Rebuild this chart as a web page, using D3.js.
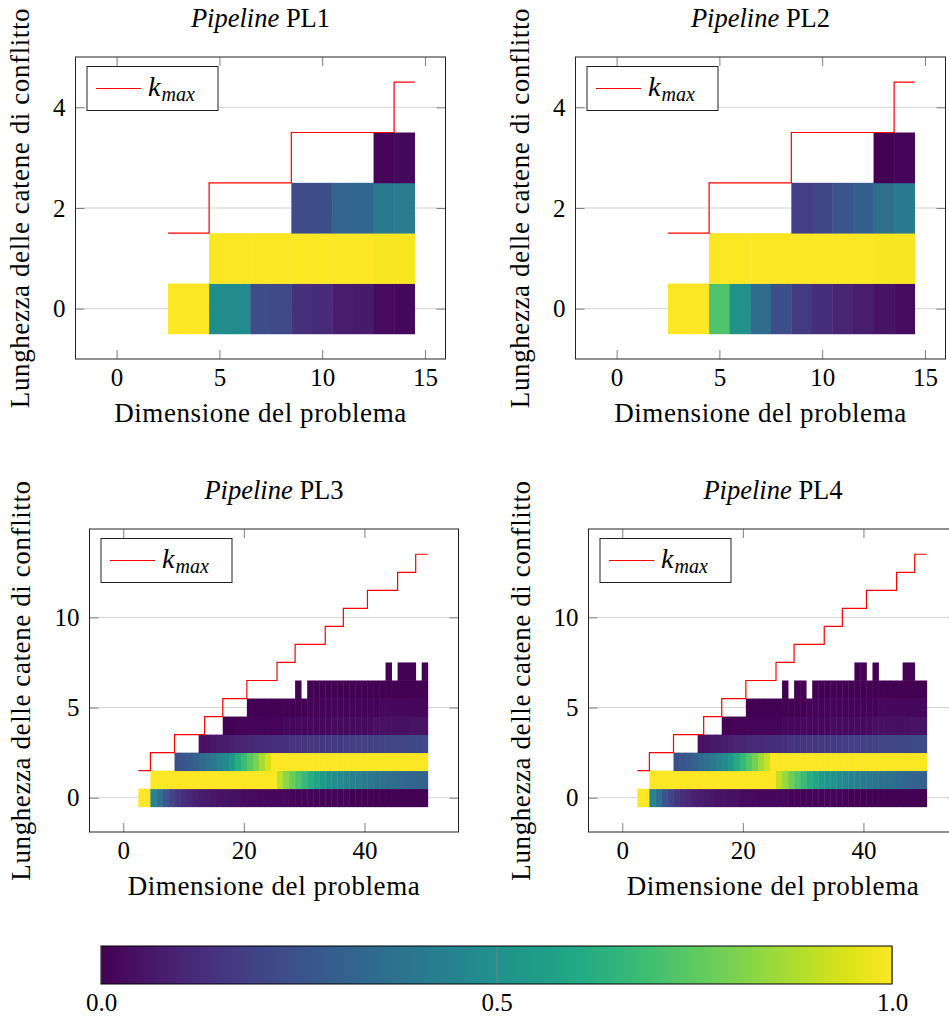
<!DOCTYPE html>
<html>
<head>
<meta charset="utf-8">
<script src="https://cdn.jsdelivr.net/npm/d3@7"></script>
<style>
  body { margin: 0; background: #fff; }
  svg text { font-family: "Liberation Serif", serif; }
</style>
</head>
<body>
<svg id="chart" width="949" height="1019"></svg>
<script>
// ---- data: small pipelines (PL1, PL2) ----
var smallN = [3, 4, 5, 6, 7, 8, 9, 10, 11, 12, 13, 14];
var smallKmax = [1, 1, 2, 2, 2, 2, 3, 3, 3, 3, 3, 4];

// first problem size present in each chain-length row (k = 0, 1, 2, 3)
var pl1Start = [3, 5, 9, 13];
var pl1Rows = [
  [1.0, 1.0, 0.49, 0.48, 0.23, 0.22, 0.14, 0.12, 0.08, 0.07, 0.03, 0.02],
  [1.0, 1.0, 1.0, 1.0, 1.0, 1.0, 1.0, 1.0, 0.99, 0.99],
  [0.23, 0.24, 0.32, 0.33, 0.41, 0.42],
  [0.01, 0.02]
];

var pl2Start = [3, 5, 9, 13];
var pl2Rows = [
  [1.0, 1.0, 0.72, 0.5, 0.35, 0.24, 0.17, 0.13, 0.1, 0.08, 0.05, 0.03],
  [1.0, 1.0, 1.0, 1.0, 1.0, 1.0, 1.0, 1.0, 0.99, 0.99],
  [0.18, 0.21, 0.26, 0.3, 0.36, 0.41],
  [0.0, 0.01]
];

// ---- data: large pipelines (PL3, PL4) ----
var bigN = [3, 4, 5, 6, 7, 8, 9, 10, 11, 12, 13, 14, 15, 16, 17, 18, 19, 20, 21, 22, 23, 24, 25, 26,
  27, 28, 29, 30, 31, 32, 33, 34, 35, 36, 37, 38, 39, 40, 41, 42, 43, 44, 45, 46, 47, 48, 49, 50];
var bigKmax = [1, 1, 2, 2, 2, 2, 3, 3, 3, 3, 3, 4, 4, 4, 5, 5, 5, 5, 6, 6, 6, 6, 6, 7,
  7, 7, 8, 8, 8, 8, 8, 9, 9, 9, 10, 10, 10, 10, 11, 11, 11, 11, 11, 12, 12, 12, 13, 13];

var pl3Start = [3, 5, 9, 13, 17, 21, 29, 44];
var pl3Rows = [
  [1.0, 1.0, 0.45, 0.37, 0.27, 0.21, 0.16, 0.13, 0.11, 0.09, 0.08, 0.07, 0.06, 0.05, 0.05, 0.04,
   0.04, 0.03, 0.03, 0.03, 0.02, 0.02, 0.02, 0.02, 0.02, 0.01, 0.01, 0.01, 0.01, 0.01, 0.01, 0.01,
   0.01, 0.01, 0.01, 0.0, 0.0, 0.0, 0.0, 0.0, 0.0, 0.0, 0.0, 0.0, 0.0, 0.0, 0.0, 0.0],
  [1.0, 1.0, 1.0, 1.0, 1.0, 1.0, 1.0, 1.0, 1.0, 1.0, 1.0, 1.0, 1.0, 1.0, 1.0, 1.0, 1.0, 1.0, 1.0,
   1.0, 1.0, 0.9, 0.83, 0.77, 0.72, 0.67, 0.62, 0.58, 0.54, 0.51, 0.49, 0.47, 0.45, 0.44, 0.42,
   0.41, 0.4, 0.38, 0.37, 0.36, 0.35, 0.34, 0.33, 0.32, 0.31, 0.3],
  [0.24, 0.26, 0.28, 0.31, 0.34, 0.37, 0.4, 0.44, 0.48, 0.54, 0.62, 0.68, 0.74, 0.8, 0.87, 0.93,
   1.0, 1.0, 1.0, 1.0, 1.0, 1.0, 1.0, 1.0, 1.0, 1.0, 1.0, 1.0, 1.0, 1.0, 1.0, 1.0, 1.0, 1.0, 1.0,
   1.0, 1.0, 1.0, 1.0, 1.0, 1.0, 1.0],
  [0.04, 0.05, 0.06, 0.07, 0.08, 0.09, 0.1, 0.1, 0.11, 0.12, 0.12, 0.13, 0.13, 0.14, 0.14, 0.15,
   0.15, 0.15, 0.16, 0.16, 0.16, 0.17, 0.17, 0.17, 0.18, 0.18, 0.18, 0.19, 0.19, 0.19, 0.2, 0.2,
   0.2, 0.21, 0.21, 0.22, 0.22, 0.23],
  [0.0, 0.0, 0.01, 0.01, 0.01, 0.01, 0.01, 0.01, 0.01, 0.01, 0.02, 0.02, 0.02, 0.02, 0.02, 0.02,
   0.02, 0.02, 0.03, 0.03, 0.03, 0.03, 0.03, 0.03, 0.03, 0.04, 0.04, 0.04, 0.04, 0.04, 0.04, 0.05,
   0.05, 0.05],
  [0.0, 0.0, 0.0, 0.0, 0.0, 0.0, 0.0, 0.0, 0.0, 0.0, 0.01, 0.01, 0.01, 0.01, 0.01, 0.01, 0.01,
   0.01, 0.01, 0.01, 0.01, 0.01, 0.02, 0.02, 0.02, 0.02, 0.02, 0.02, 0.02, 0.02],
  [0.0, null, 0.0, 0.0, 0.0, 0.0, 0.0, 0.0, 0.0, 0.0, 0.0, 0.0, 0.0, 0.0, 0.0, 0.0, 0.0, 0.0,
   0.0, 0.0, 0.0, 0.0],
  [0.0, null, 0.0, 0.0, 0.0, null, 0.0]
];

var pl4Start = [3, 5, 9, 13, 17, 21, 27, 39];
var pl4Rows = [
  [1.0, 1.0, 0.44, 0.36, 0.26, 0.21, 0.16, 0.13, 0.11, 0.09, 0.08, 0.07, 0.06, 0.05, 0.05, 0.04,
   0.04, 0.03, 0.03, 0.03, 0.02, 0.02, 0.02, 0.02, 0.02, 0.01, 0.01, 0.01, 0.01, 0.01, 0.01, 0.01,
   0.01, 0.01, 0.01, 0.0, 0.0, 0.0, 0.0, 0.0, 0.0, 0.0, 0.0, 0.0, 0.0, 0.0, 0.0, 0.0],
  [1.0, 1.0, 1.0, 1.0, 1.0, 1.0, 1.0, 1.0, 1.0, 1.0, 1.0, 1.0, 1.0, 1.0, 1.0, 1.0, 1.0, 1.0, 1.0,
   1.0, 1.0, 0.91, 0.84, 0.78, 0.73, 0.68, 0.63, 0.59, 0.55, 0.52, 0.5, 0.48, 0.46, 0.44, 0.43,
   0.41, 0.4, 0.39, 0.37, 0.36, 0.35, 0.34, 0.33, 0.32, 0.31, 0.3],
  [0.24, 0.26, 0.28, 0.31, 0.34, 0.37, 0.4, 0.44, 0.48, 0.54, 0.61, 0.67, 0.73, 0.79, 0.86, 0.92,
   1.0, 1.0, 1.0, 1.0, 1.0, 1.0, 1.0, 1.0, 1.0, 1.0, 1.0, 1.0, 1.0, 1.0, 1.0, 1.0, 1.0, 1.0, 1.0,
   1.0, 1.0, 1.0, 1.0, 1.0, 1.0, 1.0],
  [0.04, 0.05, 0.06, 0.07, 0.08, 0.09, 0.1, 0.1, 0.11, 0.12, 0.12, 0.13, 0.13, 0.14, 0.14, 0.15,
   0.15, 0.15, 0.16, 0.16, 0.16, 0.17, 0.17, 0.17, 0.18, 0.18, 0.18, 0.19, 0.19, 0.19, 0.2, 0.2,
   0.2, 0.21, 0.21, 0.22, 0.22, 0.23],
  [0.0, 0.0, 0.01, 0.01, 0.01, 0.01, 0.01, 0.01, 0.01, 0.01, 0.02, 0.02, 0.02, 0.02, 0.02, 0.02,
   0.02, 0.02, 0.03, 0.03, 0.03, 0.03, 0.03, 0.03, 0.03, 0.04, 0.04, 0.04, 0.04, 0.04, 0.04, 0.05,
   0.05, 0.05],
  [0.0, 0.0, 0.0, 0.0, 0.0, 0.0, 0.0, 0.0, 0.0, 0.0, 0.01, 0.01, 0.01, 0.01, 0.01, 0.01, 0.01,
   0.01, 0.01, 0.01, 0.01, 0.01, 0.02, 0.02, 0.02, 0.02, 0.02, 0.02, 0.02, 0.02],
  [0.0, null, 0.0, 0.0, null, 0.0, 0.0, 0.0, 0.0, 0.0, 0.0, 0.0, 0.0, 0.0, 0.0, 0.0, 0.0, 0.0,
   0.0, 0.0, 0.0, 0.0, 0.0, 0.0],
  [0.0, 0.0, null, 0.0, null, null, null, null, 0.0, 0.0]
];

// ---- ticks and labels ----
var smallXTicks = [0, 5, 10, 15];
var smallYTicks = [0, 2, 4];
var bigXTicks = [0, 20, 40];
var bigYTicks = [0, 5, 10];
var cbarTicks = [0, 0.5, 1];
var panelNames = ["PL1", "PL2", "PL3", "PL4"];
var xLabel = "Dimensione del problema";
var yLabel = "Lunghezza delle catene di conflitto";

var FONT = "'Liberation Serif', serif";
var svg = d3.select("#chart");
var color = d3.scaleSequential(d3.interpolateViridis).domain([0, 1]);

function drawPanel(cfg) {
  var x = d3.scaleLinear().domain(cfg.xDomain).range([cfg.left, cfg.left + cfg.width]);
  var y = d3.scaleLinear().domain(cfg.yDomain).range([cfg.top + cfg.height, cfg.top]);
  var bottom = cfg.top + cfg.height;
  var right = cfg.left + cfg.width;
  var g = svg.append("g");

  // horizontal grid
  g.append("g").selectAll("line")
    .data(cfg.yTicks).enter().append("line")
    .attr("x1", cfg.left).attr("x2", right)
    .attr("y1", function(d){ return y(d); })
    .attr("y2", function(d){ return y(d); })
    .attr("stroke", "#d4d4d4").attr("stroke-width", 1);

  // heatmap cells
  var cells = [];
  cfg.rows.forEach(function(vals, k){
    vals.forEach(function(v, i){
      if (v === null) return;
      cells.push({n: cfg.starts[k] + i, k: k, v: v});
    });
  });
  g.append("g").selectAll("rect")
    .data(cells).enter().append("rect")
    .attr("x", function(d){ return x(d.n - 0.5); })
    .attr("y", function(d){ return y(d.k + 0.5); })
    .attr("width", function(d){ return x(d.n + 0.5) - x(d.n - 0.5) + 0.4; })
    .attr("height", function(d){ return y(d.k - 0.5) - y(d.k + 0.5) + 0.4; })
    .attr("fill", function(d){ return color(d.v); });

  // k_max step line
  var pts = [];
  cfg.n.forEach(function(n, i){
    pts.push([n - 0.5, cfg.kmax[i] + 0.5]);
    pts.push([n + 0.5, cfg.kmax[i] + 0.5]);
  });
  g.append("path")
    .attr("d", d3.line().x(function(d){ return x(d[0]); }).y(function(d){ return y(d[1]); })(pts))
    .attr("fill", "none").attr("stroke", "#ff0000").attr("stroke-width", 1.2);

  // axes, ticks pointing inward on all four sides
  var fmt = d3.format("d");
  var ax = g.append("g").attr("transform", "translate(0," + bottom + ")")
    .call(d3.axisBottom(x).tickValues(cfg.xTicks).tickSize(-9).tickPadding(9).tickFormat(fmt));
  var ay = g.append("g").attr("transform", "translate(" + cfg.left + ",0)")
    .call(d3.axisLeft(y).tickValues(cfg.yTicks).tickSize(-9).tickPadding(10).tickFormat(fmt));
  var at = g.append("g").attr("transform", "translate(0," + cfg.top + ")")
    .call(d3.axisTop(x).tickValues(cfg.xTicks).tickSize(-9).tickFormat(""));
  var ar = g.append("g").attr("transform", "translate(" + right + ",0)")
    .call(d3.axisRight(y).tickValues(cfg.yTicks).tickSize(-9).tickFormat(""));
  [ax, ay, at, ar].forEach(function(a){
    a.select(".domain").remove();
    a.selectAll("line").attr("stroke", "#808080").attr("stroke-width", 1);
    a.attr("font-size", 25).attr("font-family", FONT);
  });
  ax.selectAll("text").attr("fill", "#000");
  ay.selectAll("text").attr("fill", "#000");

  // frame
  g.append("rect")
    .attr("x", cfg.left).attr("y", cfg.top)
    .attr("width", cfg.width).attr("height", cfg.height)
    .attr("fill", "none").attr("stroke", "#222").attr("stroke-width", 1);

  // legend
  var lx = cfg.left + 11.5, ly = cfg.top + 9.5;
  var lg = g.append("g");
  lg.append("rect").attr("x", lx).attr("y", ly).attr("width", 131).attr("height", 44)
    .attr("fill", "#fff").attr("stroke", "#222").attr("stroke-width", 1);
  lg.append("line").attr("x1", lx + 9).attr("x2", lx + 54)
    .attr("y1", ly + 22).attr("y2", ly + 22)
    .attr("stroke", "#ff0000").attr("stroke-width", 1.2);
  var lt = lg.append("text").attr("x", lx + 61).attr("y", ly + 29)
    .attr("font-style", "italic").attr("font-size", 28);
  lt.append("tspan").text("k");
  lt.append("tspan").attr("font-size", 20).attr("dy", 5).attr("dx", 1).text("max");

  // title
  var t = g.append("text").attr("x", (cfg.left + right) / 2).attr("y", cfg.top - 30)
    .attr("text-anchor", "middle").attr("font-size", 26.5);
  t.append("tspan").attr("font-style", "italic").text("Pipeline");
  t.append("tspan").text(" " + cfg.name);

  // axis labels
  g.append("text").attr("x", (cfg.left + right) / 2).attr("y", bottom + 63)
    .attr("text-anchor", "middle").attr("font-size", 27).attr("letter-spacing", 0.6).text(xLabel);
  g.append("text")
    .attr("transform", "translate(" + cfg.yLabelX + "," + (cfg.top + bottom) / 2 + ") rotate(-90)")
    .attr("text-anchor", "middle").attr("font-size", 27).attr("letter-spacing", 0.6).text(yLabel);
}

var smallCfg = {top: 57, width: 370, height: 302, xDomain: [-2, 16], yDomain: [-1, 5],
  xTicks: smallXTicks, yTicks: smallYTicks, n: smallN, kmax: smallKmax};
var bigCfg = {top: 529, width: 369, height: 303, xDomain: [-5.6, 55.6], yDomain: [-1.9, 14.9],
  xTicks: bigXTicks, yTicks: bigYTicks, n: bigN, kmax: bigKmax};

drawPanel(Object.assign({}, smallCfg, {left: 75.5, yLabelX: 29, name: panelNames[0], rows: pl1Rows, starts: pl1Start}));
drawPanel(Object.assign({}, smallCfg, {left: 575.5, yLabelX: 529, name: panelNames[1], rows: pl2Rows, starts: pl2Start}));
drawPanel(Object.assign({}, bigCfg, {left: 89.5, yLabelX: 30, name: panelNames[2], rows: pl3Rows, starts: pl3Start}));
drawPanel(Object.assign({}, bigCfg, {left: 588.5, yLabelX: 530, name: panelNames[3], rows: pl4Rows, starts: pl4Start}));

// ---- colour bar ----
var cb = {left: 101, top: 946, width: 791, height: 38};
var cx = d3.scaleLinear().domain([0, 1]).range([cb.left, cb.left + cb.width]);
var grad = svg.append("defs").append("linearGradient").attr("id", "viridis");
grad.selectAll("stop").data(d3.range(0, 1.0001, 0.05)).enter().append("stop")
  .attr("offset", function(d){ return (d * 100) + "%"; })
  .attr("stop-color", function(d){ return color(d); });
svg.append("rect").attr("x", cb.left).attr("y", cb.top)
  .attr("width", cb.width).attr("height", cb.height).attr("fill", "url(#viridis)");
var cbAxis = svg.append("g").attr("transform", "translate(0," + (cb.top + cb.height) + ")")
  .call(d3.axisBottom(cx).tickValues(cbarTicks).tickSize(-cb.height).tickPadding(9)
    .tickFormat(d3.format(".1f")));
cbAxis.select(".domain").remove();
cbAxis.selectAll("line").attr("stroke", "#888").attr("stroke-opacity", 0.6);
cbAxis.selectAll("text").attr("fill", "#000");
cbAxis.attr("font-size", 25).attr("font-family", FONT);
svg.append("rect").attr("x", cb.left).attr("y", cb.top)
  .attr("width", cb.width).attr("height", cb.height)
  .attr("fill", "none").attr("stroke", "#000").attr("stroke-width", 1);
</script>
</body>
</html>
